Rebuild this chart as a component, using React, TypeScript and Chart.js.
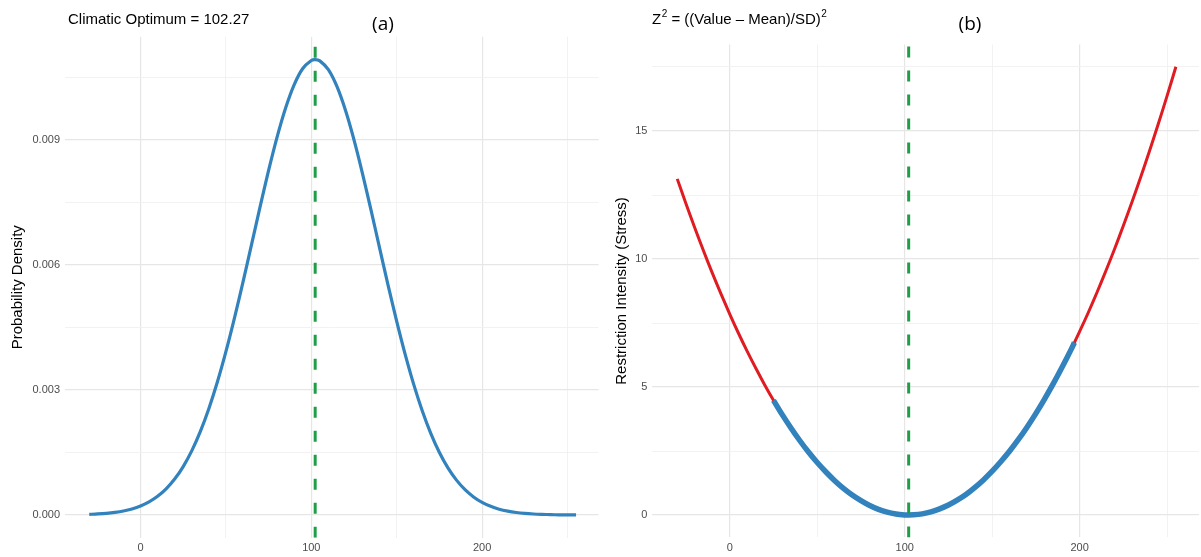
import React, { useEffect, useRef } from "react";
import { Chart, registerables } from "chart.js";
Chart.register(...registerables);

const optimum = 102.27;
const xValues = [-30, -25, -20, -15, -10, -5, 0, 5, 10, 15, 20, 25, 30, 35, 40, 45, 50, 55, 60, 65, 70, 75, 80, 85, 90, 95, 100, 102.27, 105, 110, 115, 120, 125, 130, 135, 140, 145, 150, 155, 160, 165, 170, 175, 180, 185, 190, 195, 200, 205, 210, 215, 220, 225, 230, 235, 240, 245, 250, 255];
const densityValues = [0.000015, 0.000025, 0.00004, 0.000063, 0.000096, 0.000146, 0.000216, 0.000314, 0.000448, 0.000627, 0.000862, 0.001163, 0.00154, 0.002, 0.002551, 0.003191, 0.00392, 0.004725, 0.00559, 0.006489, 0.007394, 0.008269, 0.009074, 0.009773, 0.01033, 0.010716, 0.010909, 0.01093, 0.0109, 0.010688, 0.010285, 0.009713, 0.009003, 0.00819, 0.007312, 0.006406, 0.005508, 0.004649, 0.00385, 0.003129, 0.002496, 0.001954, 0.001501, 0.001132, 0.000837, 0.000608, 0.000434, 0.000303, 0.000208, 0.00014, 0.000093, 0.00006, 0.000038, 0.000024, 0.000015, 0.000009, 0.000005, 0.000003, 0.000002];
const stressValues = [13.13, 12.16, 11.22, 10.32, 9.46, 8.64, 7.85, 7.1, 6.39, 5.72, 5.08, 4.48, 3.92, 3.4, 2.91, 2.46, 2.05, 1.68, 1.34, 1.04, 0.78, 0.56, 0.37, 0.22, 0.11, 0.04, 0.004, 0, 0.006, 0.045, 0.12, 0.24, 0.39, 0.58, 0.8, 1.07, 1.37, 1.71, 2.09, 2.5, 2.95, 3.44, 3.97, 4.54, 5.14, 5.78, 6.45, 7.17, 7.92, 8.71, 9.54, 10.4, 11.31, 12.25, 13.22, 14.24, 15.29, 16.38, 17.51];
const observedMin = 25;
const observedMax = 195;
const observedEndX = 197;
const observedEndStress = 6.74;

const xTicks = [0, 50, 100, 150, 200, 250];
const xLabels = [0, 100, 200];
const densityTicks = [0, 0.0015, 0.003, 0.0045, 0.006, 0.0075, 0.009, 0.0105];
const densityLabels = [0, 0.003, 0.006, 0.009];
const stressTicks = [0, 2.5, 5, 7.5, 10, 12.5, 15, 17.5];
const stressLabels = [0, 5, 10, 15];

const X_MIN = -44.2;
const X_MAX = 268.2;
const D_MIN = -0.000547;
const D_MAX = 0.01148;
const S_MIN = -0.875;
const S_MAX = 18.375;

const BLUE = "#3182bd";
const RED = "#e01b22";
const GREEN = "#1f9e48";
const FONT = "'Liberation Sans', Arial, sans-serif";
const TICK_COLOR = "#4d4d4d";

const near = (a: number, list: number[]) => list.some((v) => Math.abs(v - a) < 1e-9);

function gridCfg(labels: number[]) {
  return {
    color: (ctx: any) => (ctx.tick && near(ctx.tick.value, labels) ? "#e6e6e6" : "#f0f0f0"),
    lineWidth: (ctx: any) => (ctx.tick && near(ctx.tick.value, labels) ? 1.2 : 0.9),
    drawTicks: false,
  };
}

function xScale(height: number) {
  return {
    type: "linear" as const,
    min: X_MIN,
    max: X_MAX,
    afterBuildTicks: (s: any) => {
      s.ticks = xTicks.map((v) => ({ value: v }));
    },
    afterFit: (s: any) => {
      s.height = height;
    },
    border: { display: false },
    grid: gridCfg(xLabels),
    ticks: {
      autoSkip: false,
      maxRotation: 0,
      padding: 4,
      color: TICK_COLOR,
      font: { family: FONT, size: 11 },
      callback: (v: any) => (near(Number(v), xLabels) ? String(v) : ""),
    },
  };
}

function yScale(min: number, max: number, ticks: number[], labels: number[], width: number, fmt: (v: number) => string) {
  return {
    type: "linear" as const,
    min,
    max,
    afterBuildTicks: (s: any) => {
      s.ticks = ticks.map((v) => ({ value: v }));
    },
    afterFit: (s: any) => {
      s.width = width;
    },
    border: { display: false },
    grid: gridCfg(labels),
    ticks: {
      autoSkip: false,
      padding: 5,
      color: TICK_COLOR,
      font: { family: FONT, size: 11 },
      callback: (v: any) => (near(Number(v), labels) ? fmt(Number(v)) : ""),
    },
  };
}

function textPlugin(draw: (ctx: CanvasRenderingContext2D, chart: any) => void) {
  return {
    id: "texts",
    afterDraw(chart: any) {
      const ctx = chart.ctx as CanvasRenderingContext2D;
      ctx.save();
      draw(ctx, chart);
      ctx.restore();
    },
  };
}

function drawYTitle(ctx: CanvasRenderingContext2D, chart: any, x: number, text: string) {
  const a = chart.chartArea;
  ctx.save();
  ctx.translate(x, (a.top + a.bottom) / 2);
  ctx.rotate(-Math.PI / 2);
  ctx.fillStyle = "#000";
  ctx.font = `15px ${FONT}`;
  ctx.textAlign = "center";
  ctx.textBaseline = "middle";
  ctx.fillText(text, 0, 0);
  ctx.restore();
}

export default function App() {
  const leftRef = useRef<HTMLCanvasElement>(null);
  const rightRef = useRef<HTMLCanvasElement>(null);

  useEffect(() => {
    const densityPts = xValues.map((x, i) => ({ x, y: densityValues[i] }));
    const stressPts = xValues.map((x, i) => ({ x, y: stressValues[i] }));
    const observedPts = stressPts
      .filter((p) => p.x >= observedMin && p.x <= observedMax)
      .concat([{ x: observedEndX, y: observedEndStress }]);

    const left = new Chart(leftRef.current!, {
      type: "line",
      data: {
        datasets: [
          {
            data: [
              { x: optimum, y: D_MIN },
              { x: optimum, y: D_MAX },
            ],
            borderColor: GREEN,
            borderWidth: 3,
            borderDash: [11, 13],
            pointRadius: 0,
            tension: 0,
          },
          {
            data: densityPts,
            borderColor: BLUE,
            borderWidth: 3.2,
            pointRadius: 0,
            tension: 0.3,
          },
        ],
      },
      options: {
        responsive: false,
        animation: false,
        events: [],
        layout: { padding: { top: 36.7, right: 1.4, left: 0, bottom: 0 } },
        plugins: { legend: { display: false }, tooltip: { enabled: false } },
        scales: {
          x: xScale(19.2),
          y: yScale(D_MIN, D_MAX, densityTicks, densityLabels, 65, (v) => v.toFixed(3)),
        },
      },
      plugins: [
        textPlugin((ctx, chart) => {
          ctx.fillStyle = "#000";
          ctx.font = `15px ${FONT}`;
          ctx.textAlign = "left";
          ctx.textBaseline = "alphabetic";
          ctx.fillText("Climatic Optimum = 102.27", 68, 24);
          ctx.font = `19px 'Open Sans', 'DejaVu Sans', sans-serif`;
          ctx.textAlign = "center";
          ctx.fillText("(a)", 383, 30);
          drawYTitle(ctx, chart, 18, "Probability Density");
        }),
      ],
    });

    const right = new Chart(rightRef.current!, {
      type: "line",
      data: {
        datasets: [
          {
            data: [
              { x: optimum, y: S_MIN },
              { x: optimum, y: S_MAX },
            ],
            borderColor: GREEN,
            borderWidth: 3,
            borderDash: [11, 13],
            pointRadius: 0,
            tension: 0,
          },
          {
            data: observedPts,
            borderColor: BLUE,
            borderWidth: 5.5,
            pointRadius: 0,
            tension: 0.3,
          },
          {
            data: stressPts,
            borderColor: RED,
            borderWidth: 3,
            pointRadius: 0,
            tension: 0.3,
          },
        ],
      },
      options: {
        responsive: false,
        animation: false,
        events: [],
        layout: { padding: { top: 44.6, right: 2, left: 0, bottom: 0 } },
        plugins: { legend: { display: false }, tooltip: { enabled: false } },
        scales: {
          x: xScale(19.6),
          y: yScale(S_MIN, S_MAX, stressTicks, stressLabels, 52.4, (v) => String(v)),
        },
      },
      plugins: [
        textPlugin((ctx, chart) => {
          ctx.fillStyle = "#000";
          ctx.textAlign = "left";
          ctx.textBaseline = "alphabetic";
          let x = 52;
          const base = 24;
          const big = `15px ${FONT}`;
          const small = `10px ${FONT}`;
          ctx.font = big;
          ctx.fillText("Z", x, base);
          x += ctx.measureText("Z").width + 0.5;
          ctx.font = small;
          ctx.fillText("2", x, base - 7);
          x += ctx.measureText("2").width;
          ctx.font = big;
          const mid = " = ((Value \u2013 Mean)/SD)";
          ctx.fillText(mid, x, base);
          x += ctx.measureText(mid).width + 0.5;
          ctx.font = small;
          ctx.fillText("2", x, base - 7);
          ctx.font = `19px 'Open Sans', 'DejaVu Sans', sans-serif`;
          ctx.textAlign = "center";
          ctx.fillText("(b)", 370, 30);
          drawYTitle(ctx, chart, 22, "Restriction Intensity (Stress)");
        }),
      ],
    });

    return () => {
      left.destroy();
      right.destroy();
    };
  }, []);

  return (
    <div style={{ position: "fixed", left: 0, top: 0, width: 1201, height: 557, background: "#fff" }}>
      <canvas ref={leftRef} width={600} height={557} style={{ position: "absolute", left: 0, top: 0, display: "block" }} />
      <canvas ref={rightRef} width={601} height={557} style={{ position: "absolute", left: 600, top: 0, display: "block" }} />
    </div>
  );
}
